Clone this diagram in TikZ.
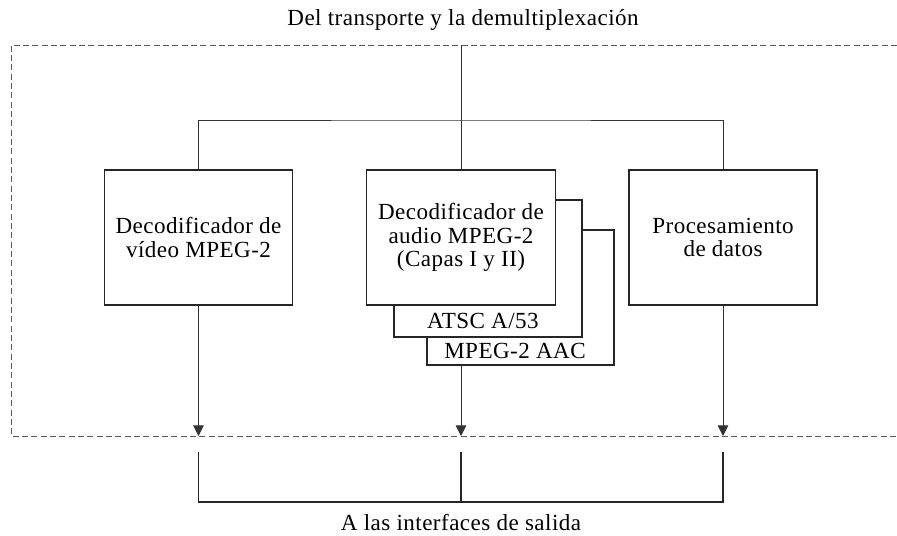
\documentclass[tikz,border=0pt]{standalone}
\usepackage{fontspec}
\setmainfont[LetterSpace=2]{Liberation Serif}
\usetikzlibrary{positioning,arrows.meta}
\tikzset{caja/.style={draw=black!85,line width=1.1pt,fill=white,minimum width=141pt,minimum height=101pt,inner sep=0pt,align=center,font=\fontsize{17.3}{17.5}\selectfont},
         linea/.style={draw=black!80,line width=0.7pt},
         flecha/.style={linea,-{Triangle[width=8pt,length=8pt]}},
         etiq/.style={inner sep=0pt,font=\fontsize{17.3}{17.5}\selectfont}}

\begin{document}
\begin{tikzpicture}[x=0.75pt,y=-0.75pt]
  \useasboundingbox (0,0) rectangle (897,536);
  % marco punteado
  \draw[black!65,line width=0.7pt,dash pattern=on 4.5pt off 2.5pt] (897,45) -- (11,45) -- (11,436) -- (897,436);

  \node[etiq] (entrada) at (463,20) {Del transporte y la demultiplexación};
  \node[etiq] (salida) at (461,522) {A las interfaces de salida};

  % bloques
  \node[caja] (video) at (198.5,237.5) {Decodificador de\\vídeo MPEG-2};
  \node[caja,minimum width=140pt,minimum height=101pt] (audioB) at (520.5,297.5) {};
  \node[caja,minimum width=141pt,minimum height=103pt] (audioA) at (488,268.5) {};
  \node[caja,minimum width=142pt] (audio) at (461,237.5) {Decodificador de\\audio MPEG-2\\(Capas I y II)};
  \node[caja] (datos) at (723,237.5) {Procesamiento\\de datos};
  \node[etiq] (atsc) at (483,321) {ATSC A/53};
  \node[etiq] (aac) at (515,351) {MPEG-2 AAC};

  % distribucion
  \coordinate (arriba) at (461,45);
  \coordinate (rama) at (461,120);
  \draw[linea] (arriba) -- (audio.north);
  \draw[linea] (video.north) |- (rama) -| (datos.north);

  % salidas
  \coordinate (fv) at (video.south |- 0,436);
  \coordinate (fa) at (audio.south |- 0,436);
  \coordinate (fd) at (datos.south |- 0,436);
  \draw[flecha] (video.south) -- (fv);
  \draw[flecha] (audioB.south -| audio.south) -- (fa);
  \draw[flecha] (datos.south) -- (fd);

  \draw[draw=black!85,line width=1.1pt] (198.5,452) -- (198.5,502) -- (723,502) -- (723,452);
  \draw[draw=black!85,line width=1.1pt] (461,452) -- (461,502);
\end{tikzpicture}
\end{document}
